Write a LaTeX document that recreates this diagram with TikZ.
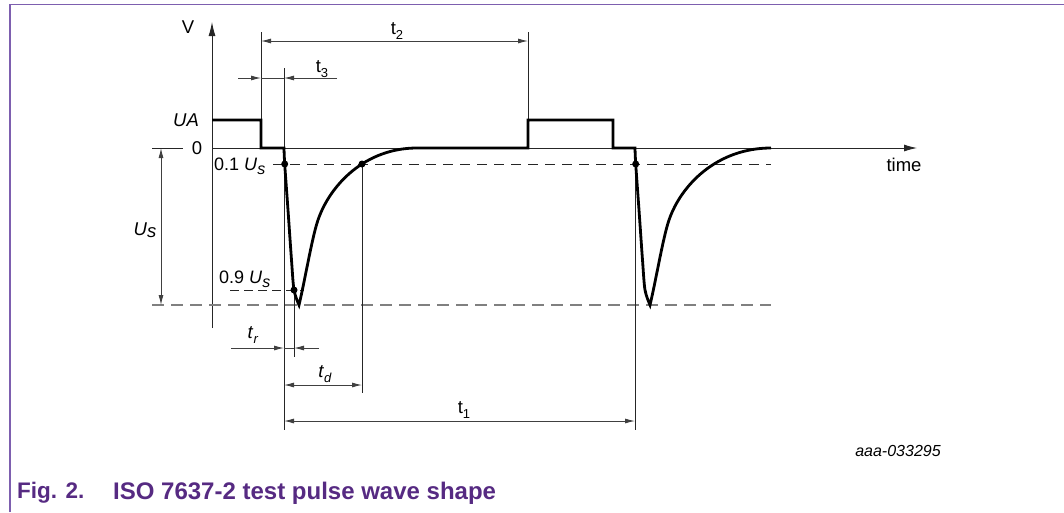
\documentclass[tikz,border=0pt]{standalone}
\usepackage{fontspec}
\setmainfont{Liberation Sans}
\usetikzlibrary{arrows.meta}
\definecolor{frameviolet}{RGB}{125,95,175}
\definecolor{capviolet}{RGB}{86,42,130}
\newcommand{\mysub}[1]{\raisebox{-0.28em}{\fontsize{13}{13}\selectfont #1}}
\newcommand{\myUs}{\textit{U}\raisebox{-0.22em}{\fontsize{16}{16}\selectfont\textit{s}}}
\begin{document}
\begin{tikzpicture}[x=1pt,y=-1pt,
  wave/.style={line width=2.8pt, line join=miter, line cap=butt},
  ext/.style={line width=0.9pt, black!85},
  dim/.style={line width=0.9pt, black!75},
  tipr/.style={-{Latex[length=10pt,width=5pt]}},
  tipb/.style={{Latex[length=10pt,width=5pt]}-{Latex[length=10pt,width=5pt]}},
  dsh/.style={line width=0.9pt, black!85, dash pattern=on 10pt off 7pt},
  dshg/.style={line width=1.3pt, black!50, dash pattern=on 12pt off 7pt},
  lbl/.style={font=\fontsize{18.5}{18.5}\selectfont, inner sep=0pt},
  slbl/.style={font=\fontsize{18}{18}\selectfont, inner sep=0pt},
  dot/.style={circle, fill=black, inner sep=0pt, minimum size=7pt}
]
\useasboundingbox (0,0) rectangle (1064,512);
% frame
\draw[frameviolet, line width=1.6pt] (10,512) -- (10,4.5) -- (1064,4.5);

% coordinates
\coordinate (vbot) at (212,328);
\coordinate (vtop) at (212,22);
\coordinate (hst) at (212,148);
\coordinate (hend) at (917,148);

% axes
\draw[ext, -{Latex[length=14pt,width=7pt]}] (vbot) -- (vtop);
\draw[ext, -{Latex[length=13pt,width=7pt]}] (hst) -- (hend);

% dashed reference lines
\coordinate (d01a) at (273,164);
\coordinate (d01b) at (771,164);
\draw[dsh] (d01a) -- (d01b);
\coordinate (d10a) at (152,305);
\coordinate (d10b) at (771,305);
\draw[dshg] (d10a) -- (d10b);
\coordinate (d09a) at (230,290);
\coordinate (d09b) at (304,290);
\draw[dsh, dash pattern=on 9pt off 5pt] (d09a) -- (d09b);

% extension lines
\coordinate (e1a) at (261,32);   \coordinate (e1b) at (261,120);
\coordinate (e2a) at (528,32);   \coordinate (e2b) at (528,120);
\coordinate (e3a) at (284,68);   \coordinate (e3b) at (284,430);
\coordinate (e4a) at (362,164);  \coordinate (e4b) at (362,393);
\coordinate (e5a) at (294,290);  \coordinate (e5b) at (294,357);
\coordinate (e6a) at (635,148);  \coordinate (e6b) at (635,430);
\coordinate (e7a) at (152,148);  \coordinate (e7b) at (183,148);
\draw[ext] (e1a) -- (e1b);
\draw[ext] (e2a) -- (e2b);
\draw[ext] (e3a) -- (e3b);
\draw[ext] (e4a) -- (e4b);
\draw[ext] (e5a) -- (e5b);
\draw[ext] (e6a) -- (e6b);
\draw[ext] (e7a) -- (e7b);

% waveform
\draw[wave] (212,120) -- (261,120) -- (261,148) -- (284,148)
  -- plot[smooth, tension=0.5] coordinates {(284,148) (284.7,164) (288,210) (291.5,260) (294,290) (299,305)}
  .. controls (305,280) and (312,237.5) .. (318,220)
  .. controls (330,185) and (365,148) .. (417,148)
  -- (528,148) -- (528,120) -- (613,120) -- (613,148) -- (635,148)
  -- plot[smooth, tension=0.5] coordinates {(635,148) (635.7,164) (639,210) (642.5,260) (645,290) (650,305)}
  .. controls (656,280) and (663,237.5) .. (669,220)
  .. controls (681,185) and (717,148) .. (771,148);

% dots
\node[dot] (p1) at (284.7,164) {};
\node[dot] (p2) at (362,164) {};
\node[dot] (p3) at (294,290) {};
\node[dot] (p4) at (635.7,164) {};

% dimension t2
\coordinate (t2a) at (261,41); \coordinate (t2b) at (528,41);
\draw[dim, tipb] (t2a) -- (t2b);
% dimension t3
\coordinate (t3a) at (238,78); \coordinate (t3b) at (261,78);
\coordinate (t3c) at (284,78); \coordinate (t3d) at (337,78);
\draw[dim, tipr] (t3a) -- (t3b);
\draw[dim] (t3b) -- (t3c);
\draw[dim, tipr] (t3d) -- (t3c);
% dimension Us
\coordinate (usa) at (161,148); \coordinate (usb) at (161,305);
\draw[dim, tipb] (usa) -- (usb);
% dimension tr
\coordinate (tra) at (231,348); \coordinate (trb) at (284,348);
\coordinate (trc) at (294,348); \coordinate (trd) at (319,348);
\draw[dim, tipr] (tra) -- (trb);
\draw[dim] (trb) -- (trc);
\draw[dim, tipr] (trd) -- (trc);
% dimension td
\coordinate (tda) at (284,385); \coordinate (tdb) at (362,385);
\draw[dim, tipb] (tda) -- (tdb);
% dimension t1
\coordinate (t1a) at (284,421); \coordinate (t1b) at (635,421);
\draw[dim, tipb] (t1a) -- (t1b);

% labels
\node[lbl] (lv) at (188,27) {V};
\node[lbl] (lua) at (186,120) {\textit{UA}};
\node[lbl] (l0) at (197,148) {0};
\node[slbl, anchor=west] (l01) at (214,166) {0.1 \myUs};
\node[slbl, anchor=west] (l09) at (219,279) {0.9 \myUs};
\node[lbl] (lus) at (145,230) {\textit{U}\raisebox{-0.12em}{\textit{s}}};
\node[lbl] (lt2) at (397,31) {t\mysub{2}};
\node[lbl] (lt3) at (322,69) {t\mysub{3}};
\node[lbl] (ltr) at (253,335) {\textit{t}\mysub{\textit{r}}};
\node[lbl] (ltd) at (325,374) {\textit{t}\mysub{\textit{d}}};
\node[lbl] (lt1) at (464,410) {t\mysub{1}};
\node[lbl] (ltime) at (904,165) {time};
\node[font=\fontsize{16}{16}\selectfont\itshape, inner sep=0pt] (lref) at (898,451) {aaa-033295};

% caption
\node[font=\fontsize{22.5}{22.5}\selectfont\bfseries, text=capviolet, inner sep=0pt, anchor=west] (cap1) at (17,493) {Fig. 2.};
\node[font=\fontsize{24}{24}\selectfont\bfseries, text=capviolet, inner sep=0pt, anchor=west] (cap2) at (113,493) {ISO 7637-2 test pulse wave shape};
\end{tikzpicture}
\end{document}
